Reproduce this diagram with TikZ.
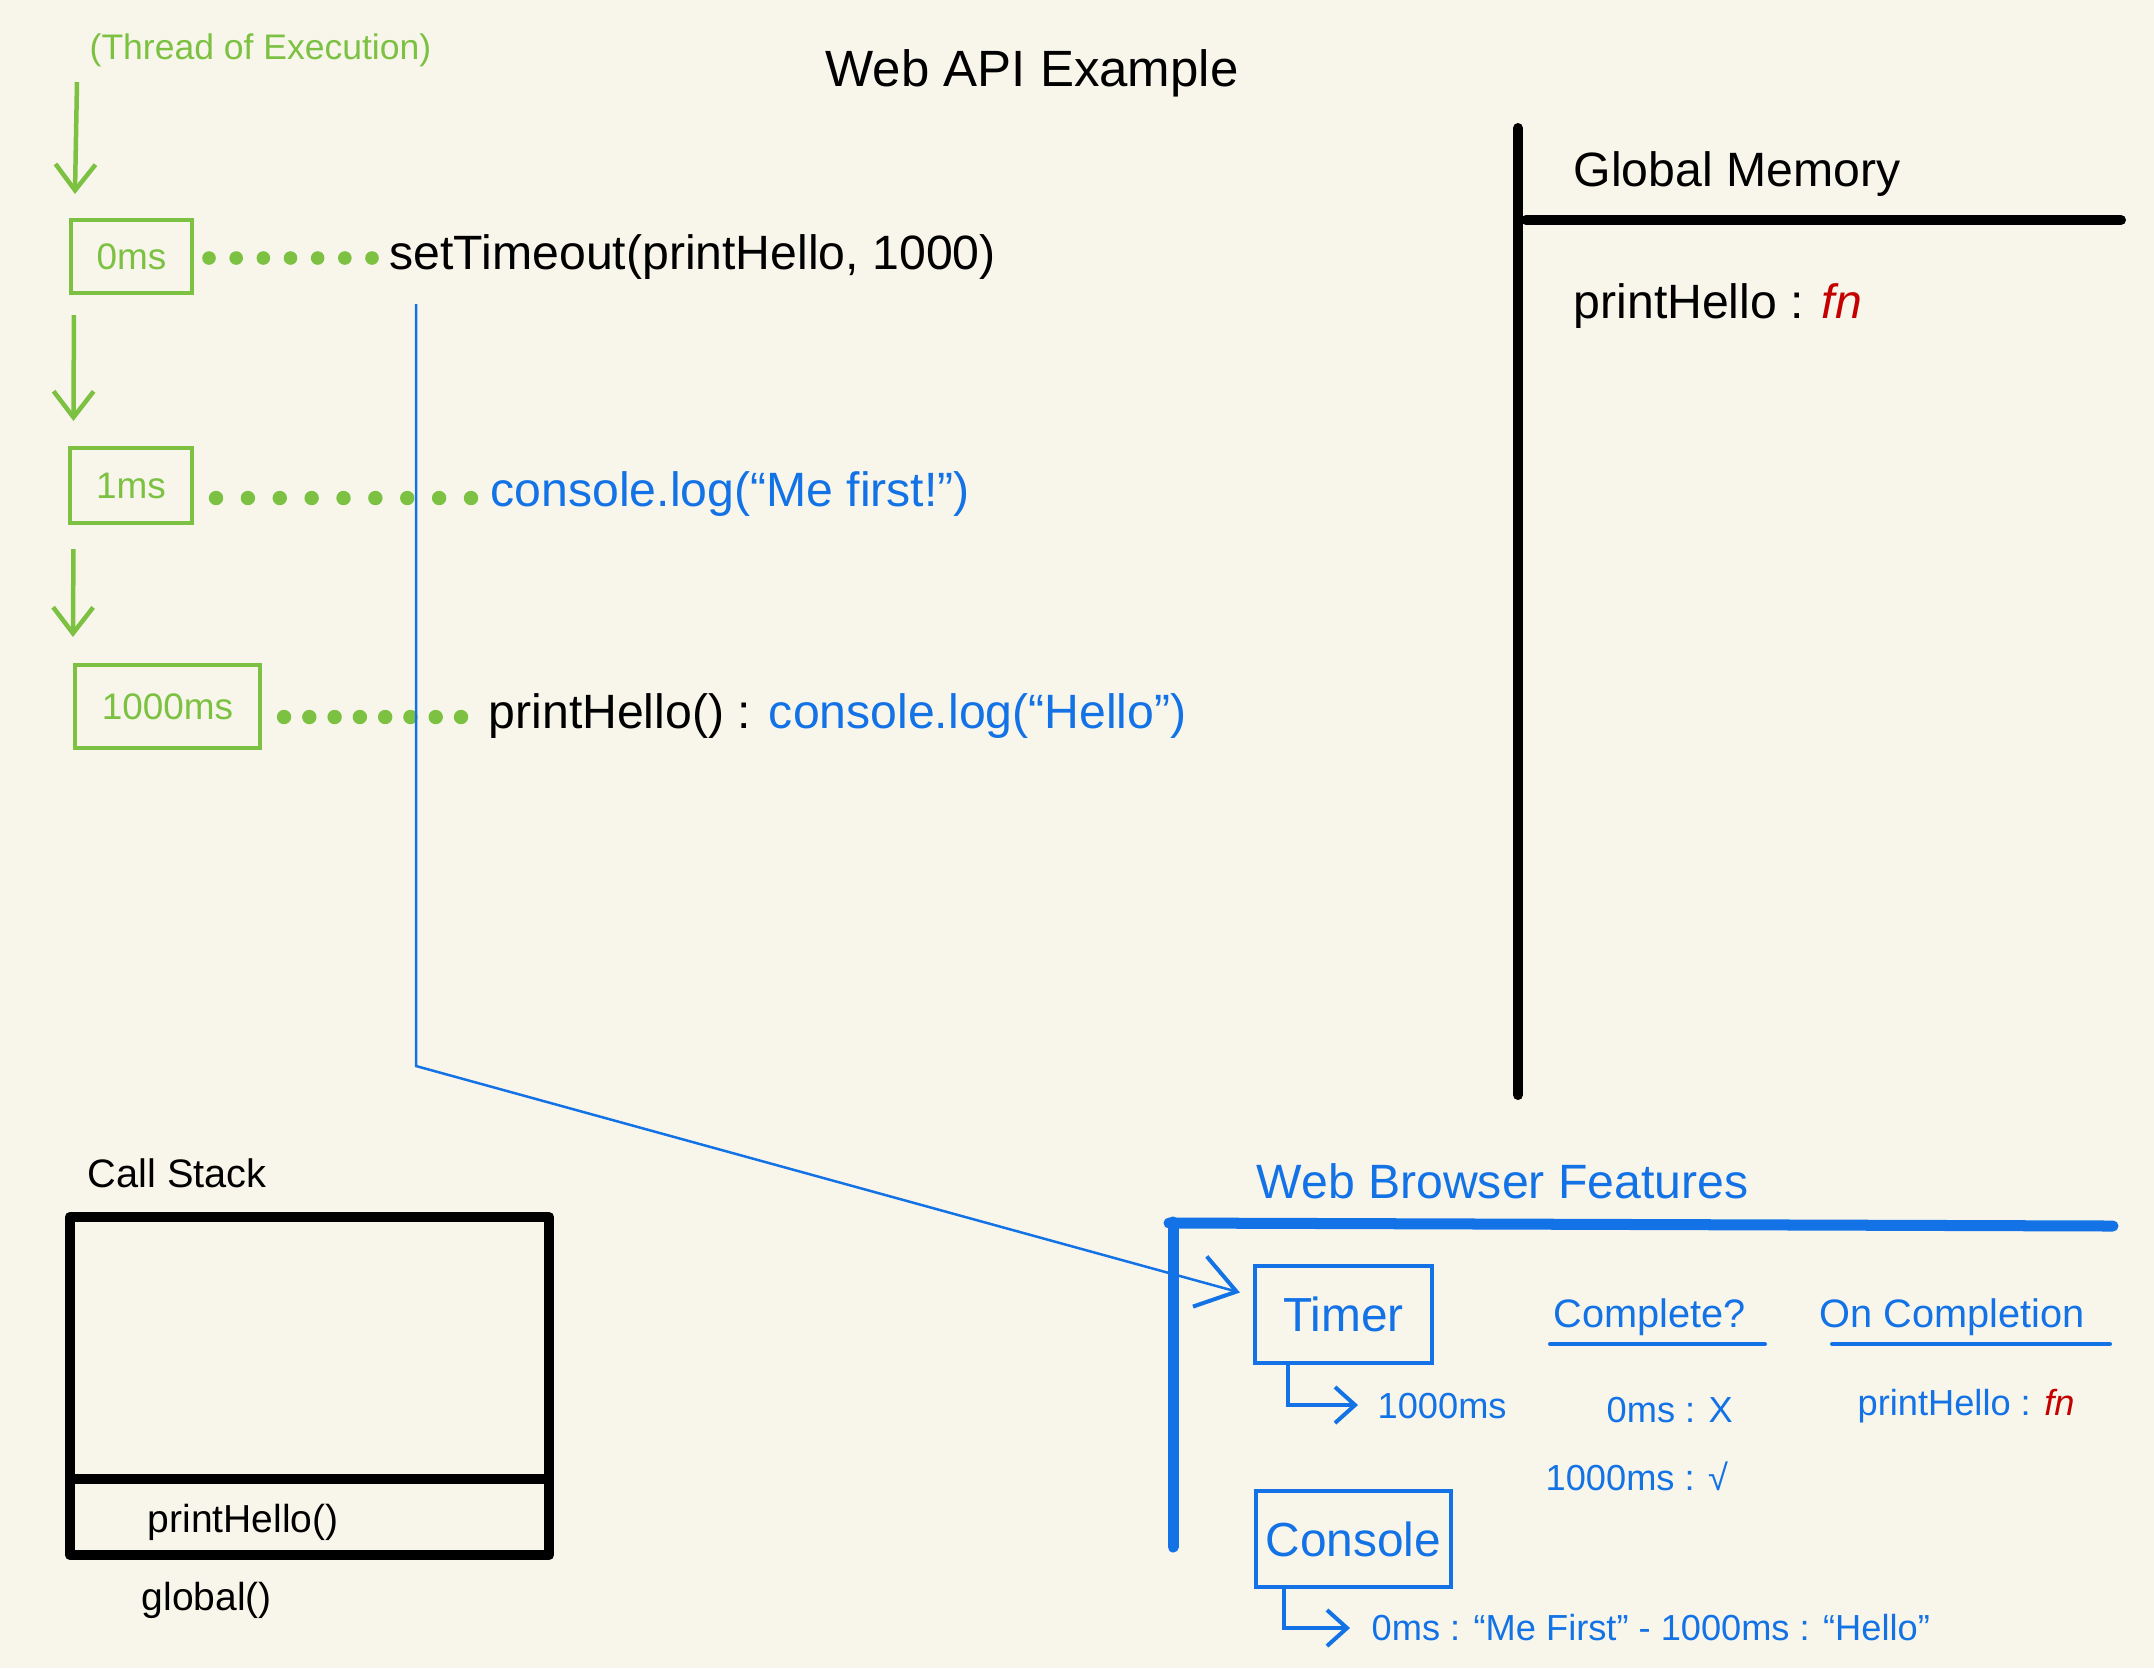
\documentclass[tikz,border=0pt]{standalone}
\usepackage{fontspec}
\setmainfont{Liberation Sans}
\usetikzlibrary{arrows.meta,calc}
\definecolor{bgc}{HTML}{F8F6EB}
\definecolor{grn}{HTML}{7CC142}
\definecolor{blu}{HTML}{1272E6}
\definecolor{rd}{HTML}{C40000}
\newcommand\fsz[1]{\fontsize{#1}{#1}\selectfont}
\begin{document}
\begin{tikzpicture}[x=0.01cm,y=-0.01cm,
  lbl/.style={inner sep=0pt, anchor=west},
  big/.style={font=\fsz{13.7pt}},
  med/.style={font=\fsz{11.3pt}},
  sml/.style={font=\fsz{10.3pt}},
  gbox/.style={draw=grn, line width=0.04cm, text=grn, font=\fsz{10.5pt}, inner sep=0pt},
  bbox/.style={draw=blu, line width=0.04cm, text=blu, font=\fsz{13.6pt}, inner sep=0pt},
  garrow/.style={draw=grn, line width=0.045cm, -{Straight Barb[length=0.26cm, width=0.40cm, line width=0.045cm]}},
  thickblack/.style={line width=0.1cm, line cap=round, line join=round},
  thickblue/.style={blu, line width=0.11cm, line cap=round},
  elbow/.style={blu, line width=0.04cm, -{Straight Barb[length=0.2cm, width=0.36cm, line width=0.04cm]}},
]
\fill[bgc] (0,0) rectangle (2154,1668);
\useasboundingbox (0,0) rectangle (2154,1668);

% titles
\node[lbl, text=grn, font=\fsz{10.1pt}] (thread) at (89,50) {(Thread of Execution)};
\node[lbl, font=\fsz{14.5pt}] (title) at (825,73) {Web API Example};

% timeline boxes
\node[gbox, minimum width=1.21cm, minimum height=0.73cm] (b0) at (131.5,256.5) {0ms};
\node[gbox, minimum width=1.21cm, minimum height=0.75cm] (b1) at (131,485.5) {1ms};
\node[gbox, minimum width=1.85cm, minimum height=0.83cm] (b2) at (167.5,706.5) {1000ms};

% code lines
\node[lbl, big] (st) at (389,257) {setTimeout(printHello, 1000)};
\node[lbl, big, text=blu] (me) at (490,494) {console.log(“Me first!”)};
\node[lbl, big] (ph) at (488,716) {printHello() : \textcolor{blu}{console.log(“Hello”)}};

% green arrows
\coordinate (g1) at (77,82);
\draw[garrow] (g1) -- ([shift={(6,-24)}]b0.north west);
\draw[garrow] ([shift={(5,20)}]b0.south west) -- ([shift={(5,-25)}]b1.north west);
\draw[garrow] ([shift={(5,24)}]b1.south west) -- ([shift={(0,-26)}]b2.north west);

% dotted connectors
\coordinate (d0a) at ([shift={(15,1.5)}]b0.east);
\coordinate (d0b) at ([shift={(-17,1)}]st.west);
\foreach \i in {0,...,6} \fill[grn] ($(d0a)!\i/6!(d0b)$) circle[radius=0.068cm];
\coordinate (d1a) at ([shift={(22.5,12.5)}]b1.east);
\coordinate (d1b) at ([shift={(-19,4)}]me.west);
\foreach \i in {0,...,8} \fill[grn] ($(d1a)!\i/8!(d1b)$) circle[radius=0.072cm];
\coordinate (d2a) at ([shift={(22,10.5)}]b2.east);
\coordinate (d2b) at ([shift={(-27,1)}]ph.west);
\foreach \i in {0,...,7} \fill[grn] ($(d2a)!\i/7!(d2b)$) circle[radius=0.072cm];

% global memory
\draw[thickblack] (1518,128) -- (1518,1095);
\draw[thickblack] (1526,220) -- (2121,220);
\node[lbl, big] (gm) at (1573,174) {Global Memory};
\node[lbl, big] (gph) at (1573,306) {printHello : \textcolor{rd}{\itshape fn}};

% call stack
\node[lbl, med] (csl) at (87,1173) {Call Stack};
\node[draw, line width=0.1cm, line join=round, minimum width=4.79cm, minimum height=3.38cm, inner sep=0pt] (cs) at (309.5,1386) {};
\coordinate (dv) at (0,1479);
\draw[line width=0.1cm] (cs.west |- dv) -- (cs.east |- dv);
\node[lbl, font=\fsz{11.1pt}] (cph) at (147,1522) {printHello()};
\node[lbl, font=\fsz{11.1pt}] (cgl) at (141,1600) {global()};

% web browser features
\node[lbl, big, text=blu] (wbf) at (1256,1181) {Web Browser Features};
\draw[thickblue] (1173,1547) -- (1173,1222);
\draw[thickblue] (1169,1223) -- (2113,1226);
\node[bbox, minimum width=1.77cm, minimum height=0.97cm] (timer) at (1343.5,1314.5) {Timer};
\node[bbox, minimum width=1.95cm, minimum height=0.96cm] (console) at (1353.5,1539) {Console};

\node[lbl, sml, text=blu] (tms) at (1377,1406) {1000ms};
\draw[elbow] ([shift={(35,0)}]timer.south west) |- ([shift={(-19,-1)}]tms.west);
\node[lbl, sml, text=blu] (cout) at (1371,1628) {0ms : “Me First” - 1000ms : “Hello”};
\draw[elbow] ([shift={(30,0)}]console.south west) |- ([shift={(-21,0)}]cout.west);

\node[lbl, med, text=blu] (cmp) at (1553,1317) {Complete?};
\node[lbl, med, text=blu] (onc) at (1819,1317) {On Completion};
\draw[blu, line width=0.04cm, line cap=round] ([shift={(-3,27)}]cmp.west) -- ([shift={(212,27)}]cmp.west);
\draw[blu, line width=0.04cm, line cap=round] ([shift={(13,27)}]onc.west) -- ([shift={(291,27)}]onc.west);
\node[lbl, sml, text=blu] (c0) at (1606,1410) {0ms : X};
\node[lbl, sml, text=blu] (c1) at (1545,1476) {1000ms : √};
\node[lbl, sml, text=blu] (oph) at (1857,1406) {printHello : \textcolor{rd}{\itshape fn}};

% blue connector from setTimeout to Timer
\coordinate (bs) at ([shift={(27,47)}]st.west);
\coordinate (bc) at (416,1066);
\draw[blu, line width=0.025cm, -{Straight Barb[length=0.38cm, width=0.52cm, line width=0.04cm]}] (bs) -- (bc) -- ([shift={(-13,-22)}]timer.west);
\end{tikzpicture}
\end{document}
